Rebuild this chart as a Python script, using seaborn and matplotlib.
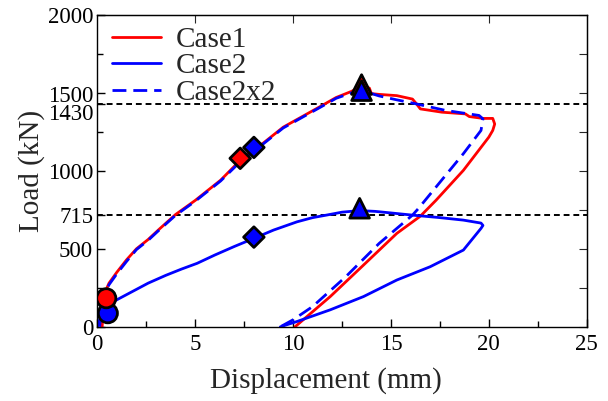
import matplotlib
matplotlib.use("Agg")
import matplotlib.pyplot as plt
import seaborn as sns
from matplotlib.ticker import MultipleLocator, FixedLocator
from matplotlib.transforms import ScaledTranslation

# load-displacement curves
case1_x = [0.25, 0.3, 0.35, 0.6, 1.0, 1.5, 2.0, 2.6, 3.2, 4.0, 5.0, 6.3, 7.4, 8.5, 9.5,
           10.5, 11.5, 12.2, 13.0, 13.5, 13.9, 14.0, 14.4, 15.3, 16.1, 16.3, 16.5, 17.6,
           18.8, 19.0, 19.7, 20.2, 20.3, 20.2, 20.0, 18.7, 17.3, 16.5, 15.3, 13.6, 11.9, 10.1]
case1_y = [0, 120, 210, 280, 350, 430, 500, 560, 630, 720, 810, 940, 1080, 1180, 1280,
           1350, 1420, 1470, 1510, 1545, 1530, 1495, 1490, 1482, 1460, 1430, 1397, 1376,
           1365, 1348, 1336, 1336, 1300, 1259, 1216, 1003, 811, 709, 599, 396, 194, 0]

case2_x = [0.0, 0.1, 0.3, 0.5, 0.8, 1.4, 2.0, 2.6, 3.5, 4.3, 5.1, 6.0, 7.0, 8.0, 9.0,
           10.2, 11.0, 11.7, 12.5, 13.4, 14.2, 15.0, 16.1, 17.5, 18.7, 19.6, 19.7, 19.6,
           18.7, 17.0, 15.3, 13.6, 11.9, 10.2, 9.35]
case2_y = [0, 40, 100, 130, 160, 200, 240, 280, 330, 370, 407, 460, 515, 567, 620,
           673, 700, 716, 735, 745, 740, 730, 716, 700, 684, 665, 650, 631,
           492, 385, 300, 194, 109, 34, 0]

case2x2_x = [0.12, 0.2, 0.35, 0.6, 1.0, 1.5, 2.0, 2.6, 3.2, 4.0, 5.0, 6.3, 7.4, 8.5, 9.5,
             10.5, 11.5, 12.2, 13.0, 13.5, 14.4, 15.3, 16.3, 17.8, 19.5, 19.7, 19.6, 18.7,
             16.4, 16.1, 14.4, 12.7, 11.0, 10.0, 9.35]
case2x2_y = [0, 100, 200, 270, 340, 420, 495, 555, 625, 715, 805, 935, 1070, 1175, 1275,
             1345, 1415, 1465, 1500, 1515, 1480, 1455, 1429, 1387, 1355, 1333, 1259, 1110,
             758, 716, 535, 322, 130, 45, 0]

# characteristic points (circle: first crack, diamond: yield, triangle: peak)
circle_x = [0.54, 0.46]
circle_y = [87, 183]
circle_c = ["blue", "red"]
diamond_x = [7.3, 8.0, 8.0]
diamond_y = [1080, 1150, 575]
diamond_c = ["red", "blue", "blue"]
tri_x = [13.5, 13.5, 13.4]
tri_y = [1553, 1514, 760]
tri_c = ["red", "blue", "blue"]

ref_levels = [1430, 715]
ytick_vals = [0, 500, 715, 1000, 1430, 1500, 2000]

sns.set_style("ticks")
plt.rcParams["font.family"] = ["Liberation Serif", "DejaVu Serif"]

fig, ax = plt.subplots(figsize=(6.08, 4.01), dpi=100)
fig.subplots_adjust(left=0.16, right=0.965, top=0.963, bottom=0.185)

for lv in ref_levels:
    ax.axhline(lv, color="black", lw=1.4, linestyle=(0, (3, 2)), zorder=1)

sns.lineplot(x=case1_x, y=case1_y, sort=False, estimator=None, color="red",
             lw=2, label="Case1", ax=ax)
sns.lineplot(x=case2_x, y=case2_y, sort=False, estimator=None, color="blue",
             lw=2, label="Case2", ax=ax)
sns.lineplot(x=case2x2_x, y=case2x2_y, sort=False, estimator=None, color="blue",
             lw=2, linestyle=(0, (5, 2.5)), label="Case2x2", ax=ax)

pal = {"red": "red", "blue": "blue"}
sns.scatterplot(x=circle_x, y=circle_y, hue=circle_c, palette=pal, marker="o", s=190,
                edgecolor="black", linewidth=2, legend=False, zorder=5, ax=ax)
sns.scatterplot(x=diamond_x, y=diamond_y, hue=diamond_c, palette=pal, marker="D", s=110,
                edgecolor="black", linewidth=2, legend=False, zorder=5, ax=ax)
sns.scatterplot(x=tri_x, y=tri_y, hue=tri_c, palette=pal, marker="^", s=200,
                edgecolor="black", linewidth=2, legend=False, zorder=5, ax=ax)

ax.set_xlim(0, 25)
ax.set_ylim(0, 2000)
ax.xaxis.set_major_locator(MultipleLocator(5))
ax.xaxis.set_minor_locator(MultipleLocator(2.5))
ax.yaxis.set_major_locator(FixedLocator(ytick_vals))
ax.yaxis.set_minor_locator(FixedLocator([250, 1250, 1750]))
ax.tick_params(which="both", direction="in", labelsize=16.5, width=1, colors="black")
ax.tick_params(which="major", length=6)
ax.tick_params(which="minor", length=4)
ax.tick_params(axis="x", pad=5)
ax.tick_params(axis="y", pad=3)

top = ax.secondary_xaxis("top")
top.set_xticks([5, 10, 15, 20])
top.tick_params(direction="in", length=6, labeltop=False)
right = ax.secondary_yaxis("right")
right.set_yticks(list(range(0, 2001, 250)))
right.tick_params(direction="in", length=6, labelright=False)

for sp in ax.spines.values():
    sp.set_visible(True)
    sp.set_linewidth(1)
    sp.set_color("black")

# the 1500 / 1430 labels sit close together, so the 1430 one is pushed down
yticks = ax.yaxis.get_major_ticks()
lab_1430 = yticks[ytick_vals.index(1430)].label1
lab_1430.set_transform(lab_1430.get_transform() + ScaledTranslation(0, -6 / 72, fig.dpi_scale_trans))
lab_1500 = yticks[ytick_vals.index(1500)].label1
lab_1500.set_transform(lab_1500.get_transform() + ScaledTranslation(0, -1 / 72, fig.dpi_scale_trans))

ax.set_xlabel("Displacement (mm)", fontsize=21)
ax.xaxis.set_label_coords(0.467, -0.128, transform=ax.transAxes)
ax.xaxis.label.set_va("top")
ax.set_ylabel("Load (kN)", fontsize=21, labelpad=2)

handles, labels = ax.get_legend_handles_labels()
ax.legend(handles[:3], labels[:3], loc="upper left", frameon=False, fontsize=21,
          labelspacing=0.0, handlelength=1.7, handletextpad=0.5,
          borderaxespad=0.0, bbox_to_anchor=(0.006, 1.0))

fig.savefig("out.png", dpi=100)
